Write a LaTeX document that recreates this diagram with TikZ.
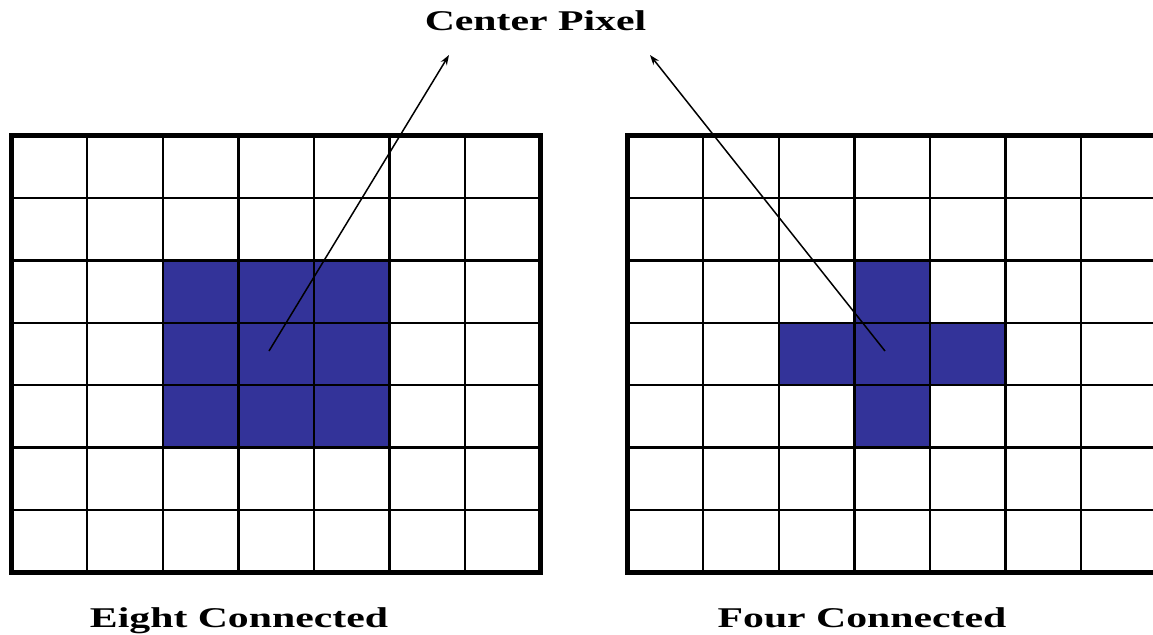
\documentclass[tikz,border=0pt]{standalone}
\usepackage{fontspec}
\setmainfont{Liberation Serif}
\usetikzlibrary{arrows.meta}
\definecolor{pixblue}{RGB}{51,51,153}

\begin{document}
\begin{tikzpicture}[x=0.5pt,y=-0.5pt,>={Stealth[length=5pt,width=3.5pt]},
  lbl/.style={font=\bfseries\fontsize{14.3}{16}\selectfont,xscale=1.46,inner sep=0pt,anchor=base},
  cellline/.style={line width=1.2pt},
  frameline/.style={line width=2.5pt}]
\clip (0,0) rectangle (1153,634);
\fill[white] (0,0) rectangle (1153,634);

% eight connected neighbourhood
\begin{scope}[shift={(11.5,135.5)}]
\fill[pixblue] (2*75.6,2*62.4) rectangle (5*75.6,5*62.4);
\foreach \i in {1,...,6} {
  \draw[cellline] (\i*75.6,0) -- (\i*75.6,436.8);
  \draw[cellline] (0,\i*62.4) -- (529.2,\i*62.4);
}
\draw[frameline] (0,0) rectangle (529.2,436.8);
\end{scope}

% four connected neighbourhood
\begin{scope}[shift={(627.5,135.5)}]
\fill[pixblue] (3*75.6,2*62.4) rectangle (4*75.6,5*62.4);
\fill[pixblue] (2*75.6,3*62.4) rectangle (5*75.6,4*62.4);
\foreach \i in {1,...,6} {
  \draw[cellline] (\i*75.6,0) -- (\i*75.6,436.8);
  \draw[cellline] (0,\i*62.4) -- (529.2,\i*62.4);
}
\draw[frameline] (0,0) rectangle (529.2,436.8);
\end{scope}

\node[lbl] (center) at (535.5,30) {Center Pixel};
\node[lbl] (eight) at (239,627) {Eight Connected};
\node[lbl] (four) at (862,627) {Four Connected};

\coordinate (eighttail) at (269,351);
\coordinate (eighthead) at (449,55);
\coordinate (fourtail) at (885,351);
\coordinate (fourhead) at (650,55);
\draw[->,line width=0.75pt] (eighttail) -- (eighthead);
\draw[->,line width=0.75pt] (fourtail) -- (fourhead);
\end{tikzpicture}
\end{document}
